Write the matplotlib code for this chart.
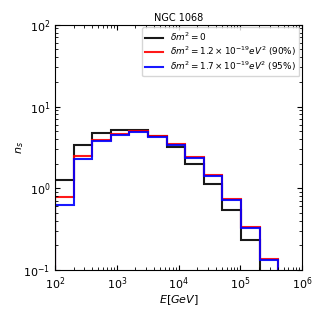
import numpy as np
import matplotlib
matplotlib.use("Agg")
import matplotlib.pyplot as plt

edges = 100 * 2.0 ** np.arange(0, 14)  # 100 ... 819200
black_vals = [1.26, 3.34, 4.75, 5.17, 5.17, 4.34, 3.19, 2.01, 1.12, 0.537, 0.231, 0.05, 0.02]
red_vals = [0.79, 2.51, 3.91, 4.62, 4.99, 4.41, 3.50, 2.42, 1.45, 0.743, 0.337, 0.135, 0.04]
blue_vals = [0.62, 2.31, 3.78, 4.54, 4.85, 4.29, 3.43, 2.32, 1.40, 0.716, 0.328, 0.131, 0.04]
labels = [r'$\delta m^2=0$',
          r'$\delta m^2=1.2\times10^{-19}eV^2$ (90%)',
          r'$\delta m^2=1.7\times10^{-19}eV^2$ (95%)']

fig = plt.figure(figsize=(3.17, 3.17), dpi=100)
ax = fig.add_axes([0.1735, 0.148, 0.7795, 0.774])
for vals, c, lab in [(black_vals, 'black', labels[0]), (red_vals, 'red', labels[1]), (blue_vals, 'blue', labels[2])]:
    ax.stairs(vals, edges, baseline=1e-3, color=c, lw=1.5, alpha=0.9, label=lab)

ax.set_xscale('log')
ax.set_yscale('log')
ax.set_xlim(1e2, 1e6)
ax.set_ylim(1e-1, 1e2)
ax.tick_params(which='both', direction='in', top=True, right=True, labelsize=8)
ax.set_xlabel(r'$E[GeV]$', fontsize=8, labelpad=1)
ax.set_ylabel(r'$n_s$', fontsize=8, labelpad=-2)
ax.set_title('NGC 1068', fontsize=7, pad=3)
ax.legend(loc='upper right', fontsize=6.4, handlelength=2, borderaxespad=0.3,
          labelspacing=0.2, borderpad=0.35)
fig.savefig('out.png', dpi=100)
